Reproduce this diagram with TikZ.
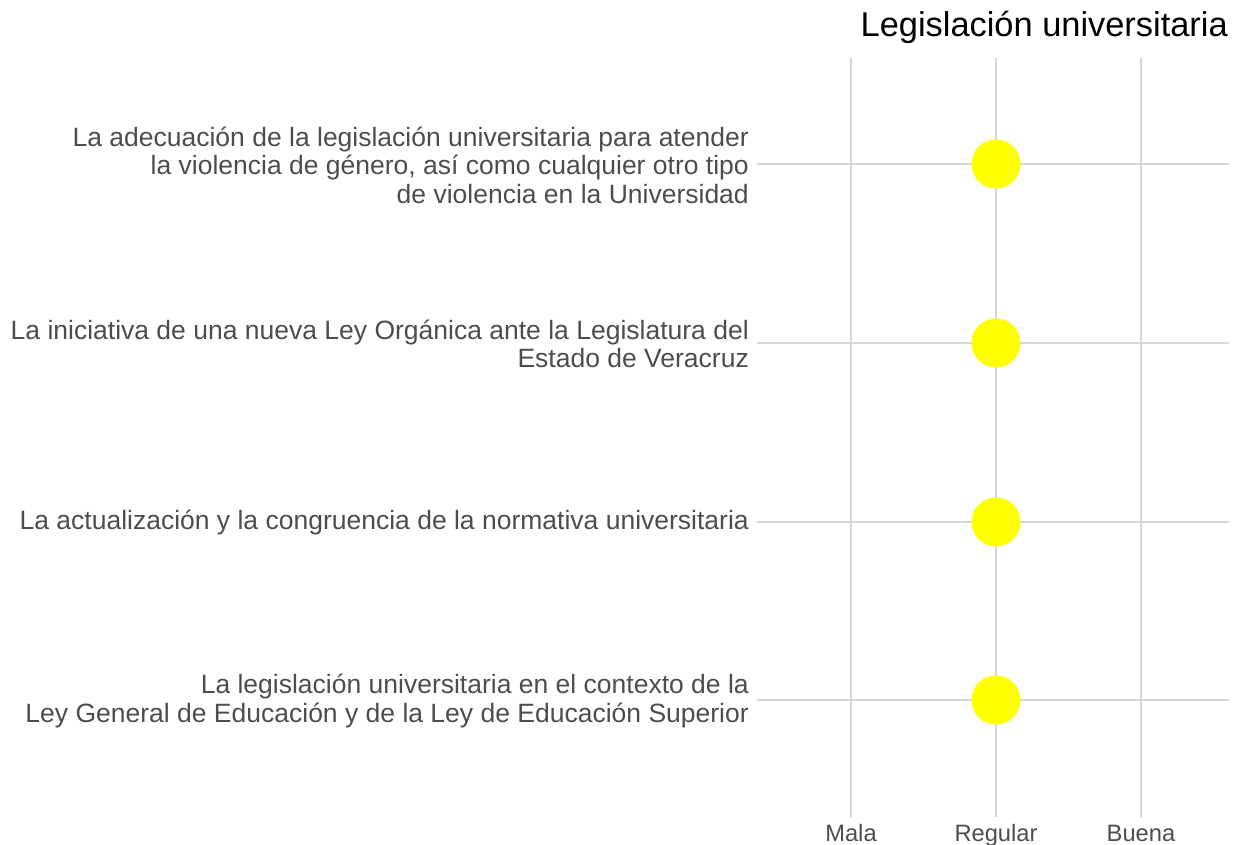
\documentclass[tikz,border=0pt]{standalone}
\usepackage{fontspec}
\setmainfont{Liberation Sans}
\definecolor{gridc}{RGB}{214,214,214}
\definecolor{txtc}{RGB}{77,77,77}
\definecolor{dotc}{RGB}{255,255,0}
\begin{document}
\begin{tikzpicture}[x=1pt,y=-1pt,
  gridline/.style={draw=gridc,line width=2pt},
  rowlabel/.style={anchor=east,align=right,inner sep=0pt,text=txtc,font=\fontsize{26.5}{28.6}\selectfont},
  axlabel/.style={anchor=base,inner sep=0pt,text=txtc,font=\fontsize{23.7}{26}\selectfont},
  dot/.style={circle,fill=dotc,draw=none,minimum size=49pt,inner sep=0pt}]
\useasboundingbox (0,0) rectangle (1237,845);
% vertical grid lines
\foreach \n/\x in {m/851,r/996,b/1141}{
  \coordinate (\n top) at (\x,58);
  \coordinate (\n bot) at (\x,817);
  \draw[gridline] (\n top) -- (\n bot);
}
% horizontal grid lines
\foreach \n/\y in {1/164,2/343,3/522,4/700}{
  \coordinate (h\n l) at (757,\y);
  \coordinate (h\n r) at (1229,\y);
  \draw[gridline] (h\n l) -- (h\n r);
  \node[dot] (d\n) at (996,\y) {};
}
% title
\node[anchor=base east,inner sep=0pt,font=\fontsize{34.4}{40}\selectfont] (title) at (1228,37) {Legislación universitaria};
% row labels
\node[rowlabel] (l1) at (749,165) {La adecuación de la legislación universitaria para atender\\la violencia de género, así como cualquier otro tipo\\de violencia en la Universidad};
\node[rowlabel] (l2) at (749,344) {La iniciativa de una nueva Ley Orgánica ante la Legislatura del\\Estado de Veracruz};
\node[rowlabel] (l3) at (749,522) {La actualización y la congruencia de la normativa universitaria};
\node[rowlabel] (l4) at (749,701) {La legislación universitaria en el contexto de la\\Ley General de Educación y de la Ley de Educación Superior};
% axis labels
\node[axlabel] (am) at (851,841) {Mala};
\node[axlabel] (ar) at (996,841) {Regular};
\node[axlabel] (ab) at (1141,841) {Buena};
\end{tikzpicture}
\end{document}
